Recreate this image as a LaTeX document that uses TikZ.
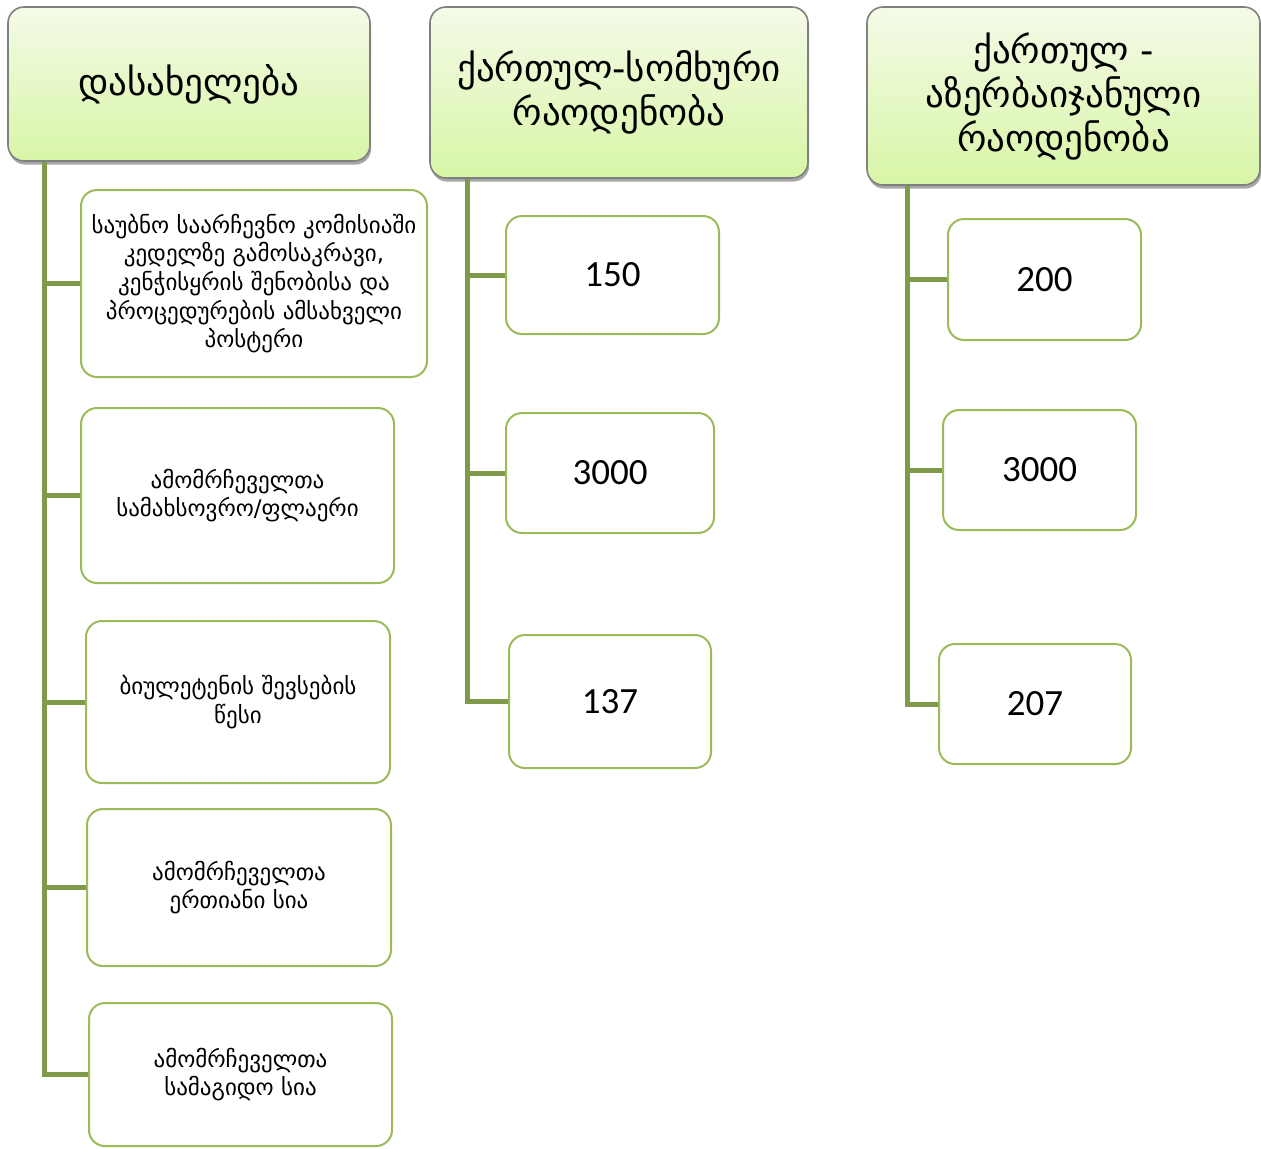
\documentclass[tikz,border=0pt]{standalone}
\usepackage{fontspec}
\setmainfont{DejaVu Sans}
\newfontfamily\numfont{Carlito}
\usetikzlibrary{shadows}

\definecolor{trunkgreen}{RGB}{127,154,74}
\definecolor{itemgreen}{RGB}{155,187,89}
\definecolor{headtop}{RGB}{244,250,232}
\definecolor{headbottom}{RGB}{216,246,166}

\tikzset{
    head/.style={draw=black!50, line width=0.8pt, rounded corners=8pt,
        top color=headtop, bottom color=headbottom, align=center,
        drop shadow={shadow xshift=0.6pt, shadow yshift=-1.8pt, opacity=0.35, fill=black},
        font=\fontsize{18.5}{22}\selectfont},
    item/.style={draw=itemgreen, line width=1pt, rounded corners=8pt, fill=white,
        align=center, font=\fontsize{11.5}{14.3}\selectfont},
    num/.style={item, font=\numfont\fontsize{18.5}{22}\selectfont},
    trunk/.style={draw=trunkgreen, line width=2.5pt},
}

\begin{document}
\begin{tikzpicture}[x=0.5pt, y=-0.5pt]
    \useasboundingbox (0,0) rectangle (1261,1148);

    \node[head, minimum width=181pt, minimum height=77pt] (h1) at (189,84) {დასახელება};
    \node[head, minimum width=189pt, minimum height=85.5pt] (h2) at (619,92.5) {ქართულ-სომხური\\რაოდენობა};
    \node[head, minimum width=196.5pt, minimum height=89pt] (h3) at (1063.5,96) {ქართულ -\\აზერბაიჯანული\\რაოდენობა};

    \node[item, minimum width=173pt, minimum height=93.5pt] (c1) at (254,283.5)
        {საუბნო საარჩევნო კომისიაში\\კედელზე გამოსაკრავი,\\კენჭისყრის შენობისა და\\პროცედურების ამსახველი\\პოსტერი};
    \node[item, minimum width=156.5pt, minimum height=87.5pt] (c2) at (237.5,495.5) {ამომრჩეველთა\\სამახსოვრო/ფლაერი};
    \node[item, minimum width=152pt, minimum height=81pt] (c3) at (238,702) {ბიულეტენის შევსების\\წესი};
    \node[item, minimum width=152pt, minimum height=78.5pt] (c4) at (239,887.5) {ამომრჩეველთა\\ერთიანი სია};
    \node[item, minimum width=151.5pt, minimum height=71.5pt] (c5) at (240.5,1074.5) {ამომრჩეველთა\\სამაგიდო სია};

    \node[num, minimum width=106.5pt, minimum height=59pt] (m1) at (612.5,275) {150};
    \node[num, minimum width=104pt, minimum height=60pt] (m2) at (610,473) {3000};
    \node[num, minimum width=101pt, minimum height=66.5pt] (m3) at (610,701.5) {137};

    \node[num, minimum width=96.5pt, minimum height=60.5pt] (r1) at (1044.5,279.5) {200};
    \node[num, minimum width=96.5pt, minimum height=60pt] (r2) at (1039.5,470) {3000};
    \node[num, minimum width=96pt, minimum height=60pt] (r3) at (1035,704) {207};

    \coordinate (t1) at ([xshift=18.5pt]h1.south west);
    \coordinate (t2) at ([xshift=19pt]h2.south west);
    \coordinate (t3) at ([xshift=20.5pt]h3.south west);

    \draw[trunk] (t1) |- (c5.west);
    \foreach \c in {c1,c2,c3,c4}
        \draw[trunk] (t1 |- \c.west) -- (\c.west);
    \draw[trunk] (t2) |- (m3.west);
    \foreach \c in {m1,m2}
        \draw[trunk] (t2 |- \c.west) -- (\c.west);
    \draw[trunk] (t3) |- (r3.west);
    \foreach \c in {r1,r2}
        \draw[trunk] (t3 |- \c.west) -- (\c.west);
\end{tikzpicture}
\end{document}
